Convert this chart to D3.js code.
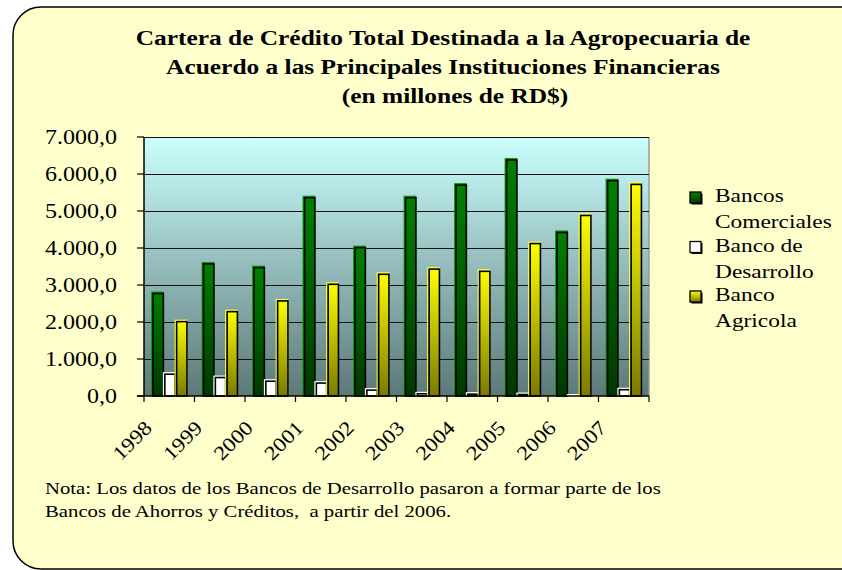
<!DOCTYPE html>
<html>
<head>
<meta charset="utf-8">
<script src="https://cdn.jsdelivr.net/npm/d3@7"></script>
<style>
  body { margin: 0; background: #ffffff; }
  text { font-family: "Liberation Serif", "Times New Roman", serif; fill: #000; white-space: pre; }
</style>
</head>
<body>
<div id="chart"></div>
<script>
// values (millones de RD$)
var years = ["1998", "1999", "2000", "2001", "2002", "2003", "2004", "2005", "2006", "2007"];
var comerciales = [2810, 3610, 3510, 5400, 4050, 5400, 5740, 6420, 4460, 5860];
var desarrollo = [630, 540, 440, 390, 200, 100, 90, 80, 40, 210];
var agricola = [2050, 2320, 2610, 3060, 3330, 3470, 3410, 4160, 4920, 5760];
var seriesNames = ["Bancos Comerciales", "Banco de Desarrollo", "Banco Agricola"];
var legendLines = [["Bancos", "Comerciales"], ["Banco de", "Desarrollo"], ["Banco", "Agricola"]];
var titleLines = [
    "Cartera de Crédito Total Destinada a la Agropecuaria de",
    "Acuerdo a las Principales Instituciones Financieras",
    "(en millones de RD$)"
];
var noteLines = [
    "Nota: Los datos de los Bancos de Desarrollo pasaron a formar parte de los",
    "Bancos de Ahorros y Créditos,  a partir del 2006."
];
var yTicks = [0, 1000, 2000, 3000, 4000, 5000, 6000, 7000];

var W = 842, H = 570;
var sx = 1.2; // text in the reference is stretched horizontally

var svg = d3.select("#chart").append("svg")
    .attr("width", W)
    .attr("height", H);

var defs = svg.append("defs");

function vGrad(id, top, bottom) {
    var g = defs.append("linearGradient").attr("id", id)
        .attr("x1", 0).attr("y1", 0).attr("x2", 0).attr("y2", 1);
    g.append("stop").attr("offset", "0%").attr("stop-color", top);
    g.append("stop").attr("offset", "100%").attr("stop-color", bottom);
}
vGrad("plotBg", "#ccffff", "#5d7878");
vGrad("gGreen", "#008000", "#003800");
vGrad("gYellow", "#ffff00", "#7a7a00");
vGrad("gWhite", "#ffffff", "#ffffff");
var fills = ["url(#gGreen)", "url(#gWhite)", "url(#gYellow)"];
var edge = ["#00a000", "#ffffff", "#ffff40"];

// outer frame (right side runs off the page like in the reference)
svg.append("rect")
    .attr("x", 13).attr("y", 7)
    .attr("width", 900).attr("height", 562)
    .attr("rx", 28)
    .attr("fill", "#ffffcc")
    .attr("stroke", "#000")
    .attr("stroke-width", 1.5);

// title
svg.selectAll(".title")
    .data(titleLines)
    .enter().append("text")
    .attr("class", "title")
    .attr("transform", function (d, i) {
        var cx = i == 2 ? 455 : 443;
        return "translate(" + cx + "," + (45 + i * 29) + ") scale(1.27,1)";
    })
    .attr("text-anchor", "middle")
    .style("font-size", "20px")
    .style("font-weight", "bold")
    .text(function (d) { return d; });

var margin = {top: 137, right: 649, bottom: 396, left: 144};

var x0 = d3.scaleBand()
    .domain(years)
    .range([margin.left, margin.right])
    .paddingInner(0.3)
    .paddingOuter(0.15);

var x1 = d3.scaleBand()
    .domain(d3.range(3))
    .range([0, x0.bandwidth()]);

var y = d3.scaleLinear()
    .domain([0, 7000])
    .range([margin.bottom, margin.top]);

// plot area
svg.append("rect")
    .attr("x", margin.left).attr("y", margin.top)
    .attr("width", margin.right - margin.left)
    .attr("height", margin.bottom - margin.top)
    .attr("fill", "url(#plotBg)");
svg.append("line")
    .attr("x1", margin.right).attr("x2", margin.right)
    .attr("y1", margin.top).attr("y2", margin.bottom)
    .attr("stroke", "#999").attr("stroke-width", 1.5);

// gridlines
svg.selectAll(".grid")
    .data(yTicks.slice(1))
    .enter().append("line")
    .attr("x1", margin.left).attr("x2", margin.right)
    .attr("y1", function (d) { return Math.round(y(d)) + 0.5; })
    .attr("y2", function (d) { return Math.round(y(d)) + 0.5; })
    .attr("stroke", "#111")
    .attr("stroke-width", 1.2);

// bars
var table = years.map(function (yr, i) {
    return {year: yr, vals: [comerciales[i], desarrollo[i], agricola[i]]};
});

var groups = svg.selectAll(".grp")
    .data(table)
    .enter().append("g")
    .attr("transform", function (d) { return "translate(" + x0(d.year) + ",0)"; });

var bars = groups.selectAll("g")
    .data(function (d) { return d.vals.map(function (v, k) { return {k: k, v: v}; }); })
    .enter().append("g");

// colored body
bars.append("rect")
    .attr("x", function (d) { return x1(d.k); })
    .attr("y", function (d) { return y(d.v); })
    .attr("width", x1.bandwidth())
    .attr("height", function (d) { return y(0) - y(d.v); })
    .attr("fill", function (d) { return fills[d.k]; })
    .attr("stroke", function (d) { return edge[d.k]; })
    .attr("stroke-width", 1);

// dark outline offset (shadow look)
bars.append("rect")
    .attr("x", function (d) { return x1(d.k) + 1.5; })
    .attr("y", function (d) { return y(d.v) + 1.5; })
    .attr("width", x1.bandwidth() - 1.5)
    .attr("height", function (d) { return Math.max(0, y(0) - y(d.v) - 1.5); })
    .attr("fill", "none")
    .attr("stroke", "#000")
    .attr("stroke-width", 1.6);

// axes
var locale = d3.formatLocale({decimal: ",", thousands: ".", grouping: [3], currency: ["", ""]});
var fmt = locale.format(",.1f");

svg.append("line")
    .attr("x1", margin.left).attr("x2", margin.left)
    .attr("y1", margin.top).attr("y2", margin.bottom)
    .attr("stroke", "#000").attr("stroke-width", 1.5);
svg.append("line")
    .attr("x1", margin.left - 7).attr("x2", margin.right)
    .attr("y1", margin.bottom).attr("y2", margin.bottom)
    .attr("stroke", "#000").attr("stroke-width", 1.5);

svg.selectAll(".ytick")
    .data(yTicks)
    .enter().append("line")
    .attr("x1", margin.left - 7).attr("x2", margin.left)
    .attr("y1", function (d) { return y(d); })
    .attr("y2", function (d) { return y(d); })
    .attr("stroke", "#000").attr("stroke-width", 1.2);

svg.selectAll(".ylab")
    .data(yTicks)
    .enter().append("text")
    .attr("transform", function (d) { return "translate(117," + y(d) + ") scale(" + sx + ",1)"; })
    .attr("text-anchor", "end")
    .attr("dy", "0.35em")
    .style("font-size", "20px")
    .text(function (d) { return fmt(d); });

var step = x0.step();
svg.selectAll(".xtick")
    .data(d3.range(years.length + 1))
    .enter().append("line")
    .attr("x1", function (i) { return margin.left + i * step; })
    .attr("x2", function (i) { return margin.left + i * step; })
    .attr("y1", margin.bottom).attr("y2", margin.bottom + 6)
    .attr("stroke", "#000").attr("stroke-width", 1.2);

svg.selectAll(".xlab")
    .data(years)
    .enter().append("text")
    .attr("transform", function (d) {
        var cx = x0(d) + x0.bandwidth() / 2;
        return "translate(" + (cx - 16) + ",429) rotate(-45) scale(1.15,1)";
    })
    .attr("text-anchor", "end")
    .style("font-size", "20px")
    .text(function (d) { return d; });

// legend
var leg = svg.selectAll(".leg")
    .data(seriesNames)
    .enter().append("g")
    .attr("transform", function (d, i) { return "translate(690," + (192 + i * 49.5) + ")"; });

leg.append("rect")
    .attr("x", 1.5).attr("y", 1.5)
    .attr("width", 11).attr("height", 11)
    .attr("fill", "#000");
leg.append("rect")
    .attr("width", 11).attr("height", 11)
    .attr("fill", function (d, i) { return fills[i]; })
    .attr("stroke", "#000")
    .attr("stroke-width", 1.3);

leg.each(function (d, i) {
    d3.select(this).selectAll("text")
        .data(legendLines[i])
        .enter().append("text")
        .attr("transform", function (t, j) { return "translate(25," + (10 + j * 26) + ") scale(" + sx + ",1)"; })
        .style("font-size", "19.5px")
        .text(function (t) { return t; });
});

// note
svg.selectAll(".note")
    .data(noteLines)
    .enter().append("text")
    .attr("transform", function (d, i) { return "translate(45," + (494 + i * 23) + ") scale(" + sx + ",1)"; })
    .style("font-size", "17.3px")
    .text(function (d) { return d; });
</script>
</body>
</html>
